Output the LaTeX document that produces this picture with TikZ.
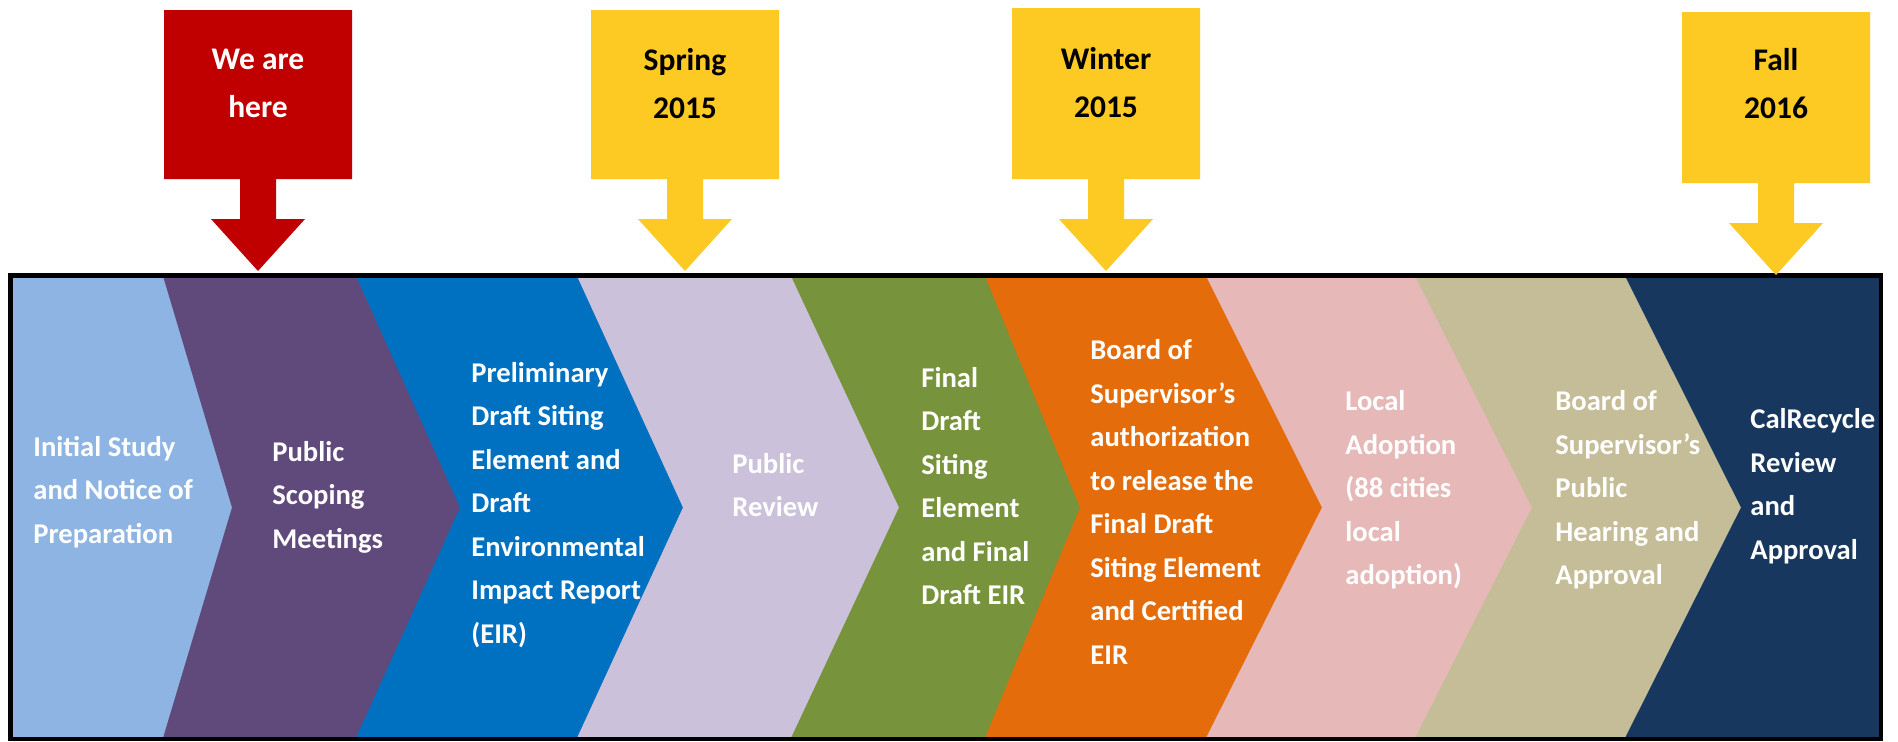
\documentclass[tikz,border=0pt]{standalone}
\usepackage{fontspec}
\setmainfont{Carlito}
\definecolor{cLightBlue}{HTML}{8EB4E3}
\definecolor{cPurple}{HTML}{604A7B}
\definecolor{cBlue}{HTML}{0070C0}
\definecolor{cLilac}{HTML}{CCC1DA}
\definecolor{cGreen}{HTML}{77933C}
\definecolor{cOrange}{HTML}{E46C0A}
\definecolor{cPink}{HTML}{E6B9B8}
\definecolor{cKhaki}{HTML}{C4BD97}
\definecolor{cNavy}{HTML}{17375E}
\definecolor{cRed}{HTML}{C00000}
\definecolor{cYellow}{HTML}{FDC923}
\newcommand\mkarrow[4]{%
  \fill[#4] (#1-94,#2) -- (#1+94,#2) -- (#1+94,#3) -- (#1+18,#3) -- (#1+18,#3+40)
    -- (#1+47,#3+40) -- (#1,#3+92) -- (#1-47,#3+40) -- (#1-18,#3+40)
    -- (#1-18,#3) -- (#1-94,#3) -- cycle;}
\begin{document}
\begin{tikzpicture}[x=0.5pt,y=-0.5pt,
  steptext/.style={anchor=west,inner sep=0pt,align=left,text=white,
    font=\fontsize{14.3pt}{21.75pt}\selectfont\bfseries},
  marktext/.style={anchor=center,inner sep=0pt,align=center,
    font=\fontsize{15.75pt}{24pt}\selectfont\bfseries}]
\useasboundingbox (0,0) rectangle (1898,741);
\fill[white] (0,0) rectangle (1898,741);
% chevron bands (each painted from its left boundary to the right edge)
\def\Top{276}\def\Mid{507.5}\def\Bot{738}
\fill[cLightBlue] (12,\Top) rectangle (1879,\Bot);
\foreach \t/\p/\c in {163/232/cPurple,356/460/cBlue,577/683/cLilac,791/899/cGreen,
  985/1080/cOrange,1206/1322/cPink,1415/1532/cKhaki,1625/1741/cNavy}{
  \fill[\c] (\t,\Top) -- (1879,\Top) -- (1879,\Bot) -- (\t,\Bot) -- (\p,\Mid) -- cycle;
}
\draw[line width=2.25pt] (10.5,275.5) rectangle (1881,739);
% step texts
\node[steptext] (t1) at (33,492) {Initial Study\\and Notice of\\Preparation};
\node[steptext] (t2) at (272,497) {Public\\Scoping\\Meetings};
\node[steptext] (t3) at (471,505) {Preliminary\\Draft Siting\\Element and\\Draft\\Environmental\\Impact Report\\(EIR)};
\node[steptext] (t4) at (732,485) {Public\\Review};
\node[steptext] (t5) at (921,486) {Final\\Draft\\Siting\\Element\\and Final\\Draft EIR};
\node[steptext] (t6) at (1090,502) {Board of\\Supervisor’s\\authorization\\to release the\\Final Draft\\Siting Element\\and Certified\\EIR};
\node[steptext] (t7) at (1345,490) {Local\\Adoption\\(88 cities\\local\\adoption)};
\node[steptext] (t8) at (1555,490) {Board of\\Supervisor’s\\Public\\Hearing and\\Approval};
\node[steptext] (t9) at (1750,486) {CalRecycle\\Review\\and\\Approval};
% markers
\mkarrow{258}{10}{179}{cRed}
\mkarrow{685}{10}{179}{cYellow}
\mkarrow{1106}{8}{179}{cYellow}
\mkarrow{1776}{12}{183}{cYellow}
\node[marktext,text=white] (m1) at (258,83) {We are\\here};
\node[marktext,text=black] (m2) at (685,84) {Spring\\2015};
\node[marktext,text=black] (m3) at (1106,82.5) {Winter\\2015};
\node[marktext,text=black] (m4) at (1776,84) {Fall\\2016};
\end{tikzpicture}
\end{document}
